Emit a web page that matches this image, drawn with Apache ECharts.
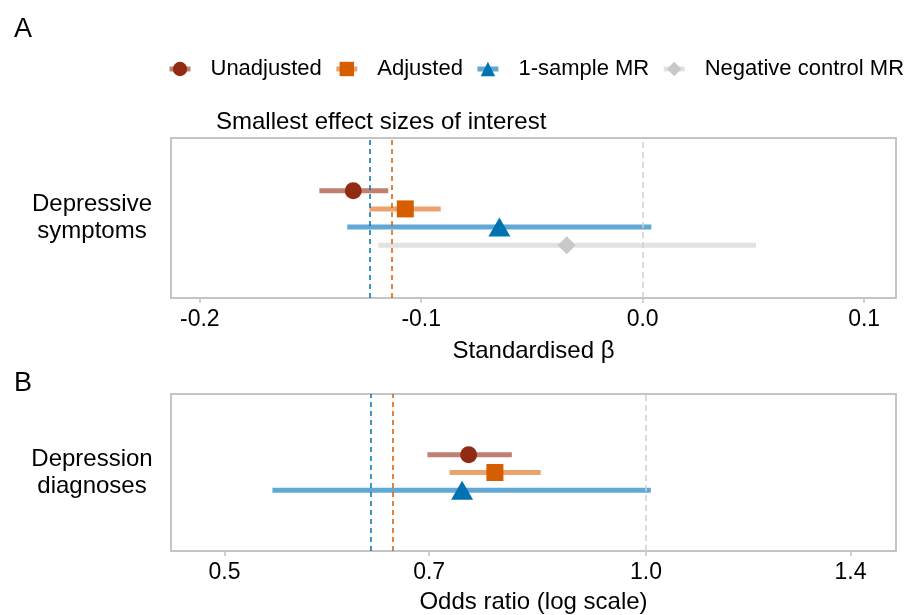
<!DOCTYPE html>
<html>
<head>
<meta charset="utf-8">
<title>Forest plot</title>
<script src="https://cdn.jsdelivr.net/npm/echarts@6/dist/echarts.min.js"></script>
<style>
  html, body { margin: 0; padding: 0; background: #fff; }
  #chart { width: 912px; height: 615px; }
</style>
</head>
<body>
<div id="chart"></div>
<script>
// Two stacked forest plots: (A) standardised beta, (B) odds ratio on log scale.

const groups = ["Unadjusted", "Adjusted", "1-sample MR", "Negative control MR"]

// panel A: standardised beta
const betaEst = [-0.1307, -0.1072, -0.0647, -0.0343]
const betaLow = [-0.146, -0.1234, -0.1334, -0.1194]
const betaHigh = [-0.1149, -0.0912, 0.0039, 0.0512]
const betaTicks = [-0.2, -0.1, 0.0, 0.1]
const betaSesoi = [-0.1231, -0.1132] // MR, observational

// panel B: odds ratios (no negative control)
const orEst = [0.747, 0.780, 0.739]
const orLow = [0.698, 0.724, 0.541]
const orHigh = [0.802, 0.841, 1.008]
const orTicks = [0.5, 0.7, 1.0, 1.4]
const orSesoi = [0.636, 0.659]

const rowsA = [1.5, 0.5, -0.5, -1.5]
const rowsB = [1, 0, -1]

const markerColors = ["#912a12", "#d55e00", "#0072b2", "#c8c8c8"]
const barColors = ["#c07f71", "#eba26c", "#62a8d4", "#e2e2e2"]
const symbols = ["circle", "rect", "triangle", "diamond"]
const symbolSizes = [17, 17, [22, 19], [18, 18]]
const sesoiColors = ["#0072b2", "#d55e00"]

const FONT = "Liberation Sans, Arial, sans-serif"
const txt = { color: "#000", fontFamily: FONT, fontSize: 24 }
const tickTxt = { ...txt, fontSize: 23 }
const tickStyle = { color: "#c4c4c4", width: 1.5 }

function addPanel(series, idx, est, low, high, rows, sesoi, nullValue, tf) {
  for (let i = 0; i < est.length; i++) {
    series.push({
      name: groups[i],
      type: "line",
      xAxisIndex: idx,
      yAxisIndex: idx,
      data: [[tf(est[i]), rows[i]]],
      symbol: symbols[i],
      symbolSize: symbolSizes[i],
      itemStyle: { color: markerColors[i] },
      lineStyle: { color: barColors[i], width: 5 },
      z: 5,
      silent: true,
    })
  }
  for (let i = 0; i < est.length; i++) {
    series.push({
      name: groups[i],
      type: "line",
      xAxisIndex: idx,
      yAxisIndex: idx,
      data: [[tf(low[i]), rows[i]], [tf(high[i]), rows[i]]],
      symbol: "none",
      lineStyle: { color: barColors[i], width: 5, cap: "butt" },
      z: 2,
      silent: true,
    })
  }
  const lines = sesoi.map((v, k) => ({
    xAxis: tf(v),
    lineStyle: { color: sesoiColors[k], type: [5, 4], width: 1.5 },
  }))
  lines.push({ xAxis: tf(nullValue), lineStyle: { color: "#cfcfcf", type: [6, 4], width: 1.5 } })
  series.push({
    type: "line",
    xAxisIndex: idx,
    yAxisIndex: idx,
    data: [],
    z: 3,
    silent: true,
    markLine: { symbol: "none", precision: 8, label: { show: false }, data: lines, animation: false },
  })
}

const series = []
addPanel(series, 0, betaEst, betaLow, betaHigh, rowsA, betaSesoi, 0, v => v)
addPanel(series, 1, orEst, orLow, orHigh, rowsB, orSesoi, 1, v => Math.log(v))

function xAxisBase(gridIndex, ticks, fmt) {
  return {
    gridIndex,
    type: "value",
    nameLocation: "middle",
    nameTextStyle: txt,
    axisLine: { show: false, onZero: false },
    axisTick: { show: true, customValues: ticks, length: 5, lineStyle: tickStyle },
    axisLabel: { customValues: ticks, formatter: fmt, margin: 10, ...tickTxt },
    splitLine: { show: false },
  }
}

function yAxisBase(gridIndex, label) {
  return {
    gridIndex,
    type: "value",
    min: -4.4,
    max: 4.4,
    axisLine: { show: false, onZero: false },
    axisTick: { show: false },
    splitLine: { show: false },
    axisLabel: {
      customValues: [0],
      formatter: () => label,
      align: "center",
      margin: 79,
      lineHeight: 27,
      padding: [5, 0, 0, 0],
      ...txt,
    },
  }
}

const option = {
  backgroundColor: "#fff",
  animation: false,
  title: [
    { text: "A", left: 9, top: 11, textStyle: { ...txt, fontSize: 27, fontWeight: "normal" } },
    { text: "B", left: 9, top: 365, textStyle: { ...txt, fontSize: 27, fontWeight: "normal" } },
    { text: "Smallest effect sizes of interest", left: 211, top: 105, textStyle: { ...txt, fontWeight: "normal" } },
  ],
  legend: {
    data: groups,
    left: 167,
    top: 58,
    width: 780,
    padding: 0,
    itemWidth: 21,
    itemHeight: 18,
    itemGap: 12,
    lineStyle: { width: 5 },
    textStyle: { ...txt, fontSize: 22, padding: [0, 0, 0, 15] },
  },
  grid: [
    { left: 171, right: 16, top: 138, height: 160, show: true, borderColor: "#c4c4c4", borderWidth: 2 },
    { left: 171, right: 16, top: 394, height: 159, show: true, borderColor: "#c4c4c4", borderWidth: 2 },
  ],
  xAxis: [
    {
      ...xAxisBase(0, betaTicks, v => v.toFixed(1)),
      min: -0.213,
      max: 0.1144,
      name: "Standardised β",
      nameGap: 41,
    },
    {
      ...xAxisBase(1, orTicks.map(Math.log), v => Math.exp(v).toFixed(1)),
      min: -0.7812,
      max: 0.4112,
      name: "Odds ratio (log scale)",
      nameGap: 39,
    },
  ],
  yAxis: [yAxisBase(0, "Depressive\nsymptoms"), yAxisBase(1, "Depression\ndiagnoses")],
  series,
}

const chart = echarts.init(document.getElementById("chart"), null, { renderer: "canvas" })
chart.setOption(option)
</script>
</body>
</html>
